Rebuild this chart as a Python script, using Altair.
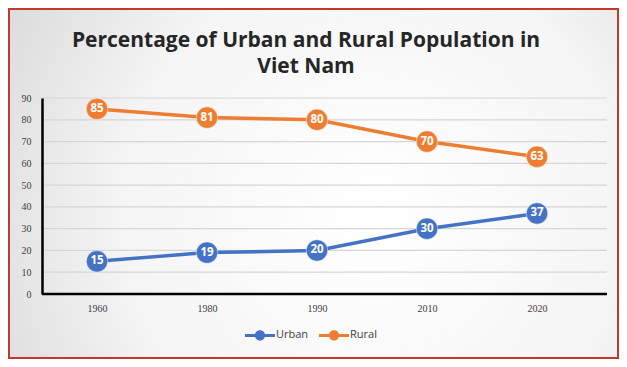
import altair as alt
import pandas as pd

years = ["1960", "1980", "1990", "2010", "2020"]
urban = [15, 19, 20, 30, 37]
rural = [85, 81, 80, 70, 63]
series = ["Urban", "Rural"]
colors = ["#4472C4", "#ED7D31"]
y_ticks = [0, 10, 20, 30, 40, 50, 60, 70, 80, 90]
title_lines = ["Percentage of Urban and Rural Population in", "Viet Nam"]

rows = []
for name, vals in zip(series, [urban, rural]):
    for yr, v in zip(years, vals):
        rows.append({"Year": yr, "Value": v, "Series": name})
df = pd.DataFrame(rows)

W, H = 565, 196

y_scale = alt.Scale(domain=[0, 90], nice=False)
x_axis = alt.Axis(title=None, labelAngle=0, ticks=False, domain=False, labelPadding=9,
                  labelFontSize=10, labelColor="#404040", grid=False,
                  labelFont="Liberation Serif", zindex=2)
y_axis = alt.Axis(title=None, values=y_ticks, ticks=False, domainColor="#000000",
                  domainWidth=2.5, labelPadding=11, labelFontSize=10,
                  labelColor="#404040", grid=False, labelFont="Liberation Serif", zindex=2)
x_enc = alt.X("Year:N", sort=years, scale=alt.Scale(type="point", range=[55, 495], padding=0),
              axis=x_axis)
y_enc = alt.Y("Value:Q", scale=y_scale, axis=y_axis)
color_scale = alt.Scale(domain=series, range=colors)

one = pd.DataFrame({"a": [0]})

bg = alt.Chart(one).mark_rect(
    fill={"gradient": "radial",
          "stops": [{"offset": 0, "color": "#ffffff"}, {"offset": 0.55, "color": "#f5f5f5"},
                    {"offset": 1, "color": "#d6d6d6"}],
          "x1": 0.6, "y1": 0.55, "r1": 0, "x2": 0.6, "y2": 0.55, "r2": 0.75},
    stroke="#c0392b", strokeWidth=2
).encode(x=alt.value(-33), x2=alt.value(576), y=alt.value(-89), y2=alt.value(260))

title = alt.Chart(one).mark_text(
    text="\n".join(title_lines), lineBreak="\n", lineHeight=26, fontSize=21, font="Open Sans",
    fontWeight="bold", color="#262626", align="center", baseline="alphabetic"
).encode(x=alt.value(264), y=alt.value(-51))

grid = alt.Chart(pd.DataFrame({"v": y_ticks[1:]})).mark_rule(
    color="#d6d6d6", strokeWidth=1.2).encode(y=alt.Y("v:Q", scale=y_scale, axis=y_axis))

xline = alt.Chart(pd.DataFrame({"v": [0]})).mark_rule(
    color="#000000", strokeWidth=2.5).encode(y=alt.Y("v:Q", scale=y_scale, axis=y_axis))

base = alt.Chart(df)

leg_path = ("M-1,-0.1 L-0.3,-0.1 L-0.3,0.1 L-1,0.1 Z "
            "M0.3,-0.1 L1,-0.1 L1,0.1 L0.3,0.1 Z "
            "M0.34,0 A0.34,0.34 0 1,1 -0.34,0 A0.34,0.34 0 1,1 0.34,0 Z")
legend = alt.Legend(title=None, orient="none", legendX=203, legendY=222,
                    direction="horizontal", symbolType=leg_path,
                    symbolSize=900, symbolStrokeWidth=0, symbolOpacity=1,
                    labelFontSize=11, labelColor="#404040",
                    labelFont="Open Sans", labelOffset=1,
                    columnPadding=10, padding=0, zindex=2)

lines = base.mark_line(strokeWidth=3.5).encode(
    x=x_enc, y=y_enc,
    color=alt.Color("Series:N", scale=color_scale, sort=series, legend=legend),
    detail="Series:N")

points = base.mark_circle(size=460, opacity=1, stroke="#ffffff", strokeWidth=0.8,
                          strokeOpacity=0.6).encode(
    x=x_enc, y=y_enc,
    color=alt.Color("Series:N", scale=color_scale, sort=series, legend=legend))

labels = base.mark_text(color="white", fontWeight="bold", fontSize=11.5,
                        font="Open Sans").encode(
    x=x_enc, y=y_enc, text="Value:Q")

chart = alt.layer(bg, title, grid, xline, lines, points, labels).properties(
    width=W, height=H,
    autosize=alt.AutoSizeParams(type="none"),
    padding={"left": 34, "top": 90, "right": 12, "bottom": 65},
).configure_view(stroke=None).configure(background="#ffffff")

chart.save("out.html", embed_options={"renderer": "svg", "actions": False})
